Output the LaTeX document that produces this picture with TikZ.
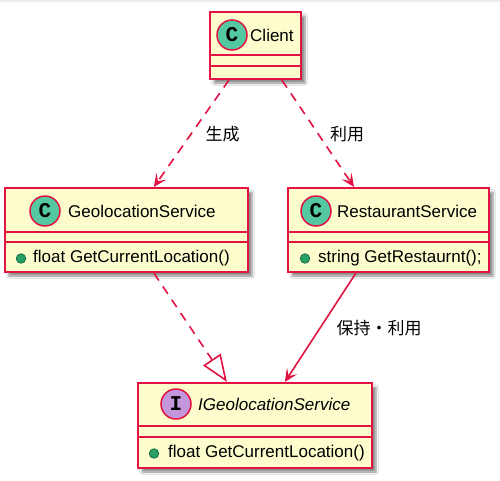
\documentclass[tikz,border=0pt]{standalone}
\usepackage{fontspec}
\setmainfont{Liberation Sans}
\newfontfamily\cjk{Noto Sans CJK JP}
\newfontfamily\circfont{Liberation Mono}
\usetikzlibrary{calc,arrows.meta,shadows.blur}
\definecolor{umlred}{RGB}{226,18,66}
\definecolor{umlfill}{RGB}{252,252,204}
\definecolor{cfill}{RGB}{84,200,160}
\definecolor{ifill}{RGB}{196,150,220}
\definecolor{dotfill}{RGB}{40,160,100}
\definecolor{dotdraw}{RGB}{20,110,70}
\tikzset{
  classbox/.style={draw=umlred, line width=2.2pt, fill=umlfill, inner sep=0pt,
    blur shadow={shadow xshift=4pt, shadow yshift=-4pt, shadow blur steps=6, shadow opacity=45}},
  sepline/.style={draw=umlred, line width=2.2pt},
  badge/.style={circle, draw=umlred, line width=1.5pt, minimum size=30pt, inner sep=0pt,
    font=\circfont\bfseries\fontsize{21}{21}\selectfont},
  txt/.style={inner sep=0pt, anchor=west, font=\fontsize{17}{20}\selectfont},
  lbl/.style={inner sep=0pt, font=\cjk\fontsize{17}{20}\selectfont},
  pubdot/.style={circle, draw=dotdraw, fill=dotfill, line width=0.8pt, minimum size=9.5pt, inner sep=0pt},
  dep/.style={draw=umlred, line width=1.6pt, dash pattern=on 9pt off 7pt,
    -{Stealth[length=13pt, width=12pt, inset=6pt]}},
  assoc/.style={draw=umlred, line width=1.6pt, -{Stealth[length=13pt, width=12pt, inset=6pt]}},
  realize/.style={draw=umlred, line width=1.6pt, dash pattern=on 9pt off 7pt,
    -{Triangle[open, length=27pt, width=21pt, fill=white]}}
}
\begin{document}
\begin{tikzpicture}[x=1pt,y=-1pt]
\useasboundingbox (0,0) rectangle (500,480);
\fill[white] (0,0) rectangle (500,480);
\fill[black!8] (0,0) rectangle (500,2);

% Client
\node[classbox, minimum width=91pt, minimum height=67pt] (client) at (255.5,45.5) {};
\draw[sepline] ($(client.north west)+(0,44)$) -- ($(client.north east)+(0,44)$);
\draw[sepline] ($(client.north west)+(0,55)$) -- ($(client.north east)+(0,55)$);
\node[badge, fill=cfill] (clientC) at (232,35) {C};
\node[txt] (clientT) at (250,35) {Client};

% GeolocationService
\node[classbox, minimum width=243pt, minimum height=84pt] (geo) at (126.5,230) {};
\draw[sepline] ($(geo.north west)+(0,45)$) -- ($(geo.north east)+(0,45)$);
\draw[sepline] ($(geo.north west)+(0,55)$) -- ($(geo.north east)+(0,55)$);
\node[badge, fill=cfill] (geoC) at (45,211) {C};
\node[txt] (geoT) at (68,211) {GeolocationService};
\node[pubdot] (geoD) at (21,258.5) {};
\node[txt] (geoM) at (33,258) {float GetCurrentLocation()};

% RestaurantService
\node[classbox, minimum width=201pt, minimum height=84pt] (rest) at (388.5,230) {};
\draw[sepline] ($(rest.north west)+(0,45)$) -- ($(rest.north east)+(0,45)$);
\draw[sepline] ($(rest.north west)+(0,55)$) -- ($(rest.north east)+(0,55)$);
\node[badge, fill=cfill] (restC) at (316,211) {C};
\node[txt] (restT) at (337,211) {RestaurantService};
\node[pubdot] (restD) at (305,258.5) {};
\node[txt] (restM) at (318,258) {string GetRestaurnt();};

% IGeolocationService
\node[classbox, minimum width=234pt, minimum height=85pt] (igeo) at (255,425.5) {};
\draw[sepline] ($(igeo.north west)+(0,44)$) -- ($(igeo.north east)+(0,44)$);
\draw[sepline] ($(igeo.north west)+(0,55)$) -- ($(igeo.north east)+(0,55)$);
\node[badge, fill=ifill] (igeoI) at (176,404) {I};
\node[txt, font=\itshape\fontsize{17}{20}\selectfont] (igeoT) at (198,404) {IGeolocationService};
\node[pubdot] (igeoD) at (154,453.5) {};
\node[txt] (igeoM) at (168,453) {float GetCurrentLocation()};

% connectors
\draw[dep] ($(client.south west)+(20,0)$) -- ($(geo.north west)+(150,0)$);
\draw[dep] ($(client.south west)+(73,0)$) -- ($(rest.north west)+(67,0)$);
\draw[realize] ($(geo.south west)+(150,0)$) -- ($(igeo.north west)+(90,0)$);
\draw[assoc] ($(rest.south west)+(69,0)$) -- ($(igeo.north west)+(148,0)$);

% labels
\node[lbl] (l1) at (222.5,134) {生成};
\node[lbl] (l2) at (347,134) {利用};
\node[lbl] (l3) at (379,328) {保持・利用};
\end{tikzpicture}
\end{document}
